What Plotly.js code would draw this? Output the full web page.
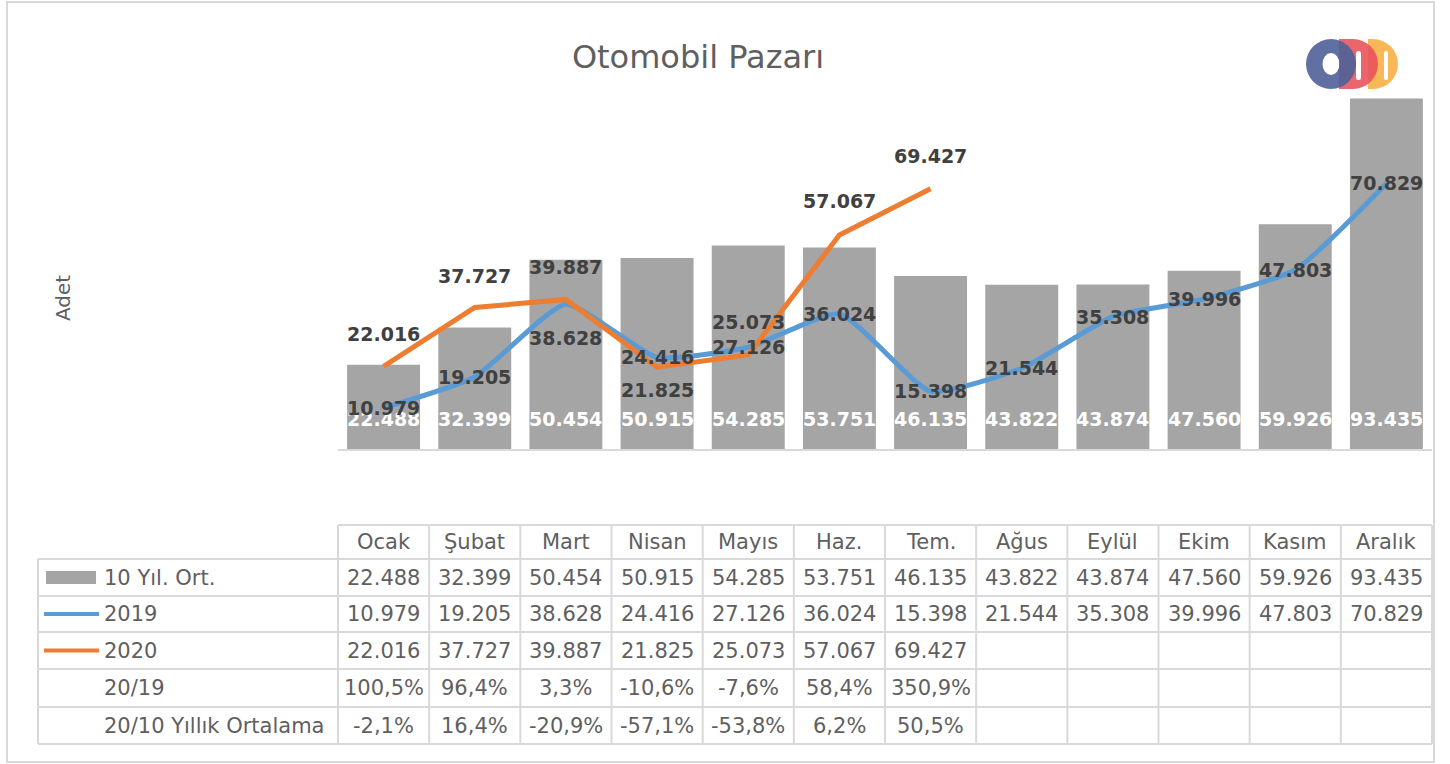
<!DOCTYPE html>
<html>
<head>
<meta charset="utf-8">
<script src="https://cdn.plot.ly/plotly-3.0.1.min.js"></script>
<style>html,body{margin:0;padding:0;background:#fff;}#chart{width:1450px;height:764px;}</style>
</head>
<body>
<div id="chart"></div>
<script>
// ---------- data ----------
const months = ["Ocak","Şubat","Mart","Nisan","Mayıs","Haz.","Tem.","Ağus","Eylül","Ekim","Kasım","Aralık"];
const avg10y = [22488, 32399, 50454, 50915, 54285, 53751, 46135, 43822, 43874, 47560, 59926, 93435];
const sales2019 = [10979, 19205, 38628, 24416, 27126, 36024, 15398, 21544, 35308, 39996, 47803, 70829];
const sales2020 = [22016, 37727, 39887, 21825, 25073, 57067, 69427];
const ratio20vs19 = [100.5, 96.4, 3.3, -10.6, -7.6, 58.4, 350.9];
const ratio20vs10y = [-2.1, 16.4, -20.9, -57.1, -53.8, 6.2, 50.5];
const seriesNames = ["10 Yıl. Ort.", "2019", "2020", "20/19", "20/10 Yıllık Ortalama"];

// ---------- label placement (pixels) ----------
const shift2019 = [0,0,-34,0,0,0,0,0,0,0,0,0];
const shift2020 = [32,32,32,-23,33,34,33];

// ---------- geometry helpers ----------
const L = 338, R = 1432, T = 74, B = 449;
const px2x = p => (p - L) / (R - L);
const px2y = p => (B - p) / (B - T);
const fmtN = n => String(n).replace(/\B(?=(\d{3})+(?!\d))/g, ".");
const fmtP = v => v.toFixed(1).replace(".", ",") + "%";

const FONT = "DejaVu Sans";
const TXT = "#5f5f5f";
const GRID = "#d9d9d9";
const BLUE = "#5B9BD5", ORANGE = "#ED7D31", GRAY = "#A5A5A5";

const traces = [
  {type:"bar", x:months, y:avg10y, name:seriesNames[0], marker:{color:GRAY}, hoverinfo:"none"},
  {type:"scatter", mode:"lines", x:months, y:sales2019, name:seriesNames[1],
   line:{color:BLUE, width:5, shape:"spline", smoothing:0.5}, hoverinfo:"none"},
  {type:"scatter", mode:"lines", x:months.slice(0, sales2020.length), y:sales2020, name:seriesNames[2],
   line:{color:ORANGE, width:5}, hoverinfo:"none"}
];

const ann = [];
const shapes = [];
const A = o => ann.push(Object.assign({showarrow:false, xanchor:"center", yanchor:"middle"}, o));

// bar value labels (white, inside bottom)
avg10y.forEach((v,i) => A({x:months[i], xref:"x", y:px2y(419), yref:"paper", text:fmtN(v),
  font:{family:FONT, size:19, color:"#ffffff", weight:"bold"}}));
// 2019 labels
sales2019.forEach((v,i) => A({x:months[i], xref:"x", y:v, yref:"y", yshift:shift2019[i], text:fmtN(v),
  font:{family:FONT, size:19, color:"#404040", weight:"bold"}}));
// 2020 labels
sales2020.forEach((v,i) => A({x:months[i], xref:"x", y:v, yref:"y", yshift:shift2020[i], text:fmtN(v),
  font:{family:FONT, size:19, color:"#404040", weight:"bold"}}));

// axis title
A({x:px2x(63), xref:"paper", y:px2y(298), yref:"paper", text:"Adet", textangle:-90,
  font:{family:FONT, size:20, color:TXT}});

// ---------- data table ----------
const rowEdges = [525, 559, 596, 632, 669, 707, 744];
const rowCenter = k => (rowEdges[k] + rowEdges[k+1]) / 2;
const tfont = {family:FONT, size:21, color:TXT};
months.forEach((m,i) => A({x:m, xref:"x", y:px2y(rowCenter(0)), yref:"paper", text:m, font:tfont}));
const rows = [avg10y.map(fmtN), sales2019.map(fmtN), sales2020.map(fmtN), ratio20vs19.map(fmtP), ratio20vs10y.map(fmtP)];
rows.forEach((r,k) => {
  r.forEach((t,i) => A({x:months[i], xref:"x", y:px2y(rowCenter(k+1)), yref:"paper", text:t, font:tfont}));
  A({x:px2x(102), xref:"paper", xanchor:"left", y:px2y(rowCenter(k+1)), yref:"paper", text:seriesNames[k], font:tfont});
});

const line = (x0,y0,x1,y1,c,w) => shapes.push({type:"line", xref:"paper", yref:"paper", x0, y0, x1, y1, line:{color:c, width:w}, layer:"above"});
// horizontal lines
line(0, px2y(525), 1, px2y(525), GRID, 2);
for (let k = 1; k < rowEdges.length; k++) line(px2x(38), px2y(rowEdges[k]), 1, px2y(rowEdges[k]), GRID, 2);
// vertical lines
for (let i = 0; i <= months.length; i++) line(i/months.length, px2y(525), i/months.length, px2y(744), GRID, 2);
line(px2x(38), px2y(559), px2x(38), px2y(744), GRID, 2);
// legend keys
shapes.push({type:"rect", xref:"paper", yref:"paper", x0:px2x(46), x1:px2x(96), y0:px2y(571), y1:px2y(584), fillcolor:GRAY, line:{width:0}});
line(px2x(44), px2y(rowCenter(2)), px2x(99), px2y(rowCenter(2)), BLUE, 4);
line(px2x(44), px2y(rowCenter(3)), px2x(99), px2y(rowCenter(3)), ORANGE, 4);
// outer chart border
shapes.push({type:"rect", xref:"paper", yref:"paper", x0:px2x(7), x1:px2x(1434), y0:px2y(2), y1:px2y(762), line:{color:GRID, width:2}, fillcolor:"rgba(0,0,0,0)"});

// ---------- logo ----------
const logoSvg = '<svg xmlns="http://www.w3.org/2000/svg" width="120" height="60" viewBox="0 0 120 60">' +
  '<path fill="#f8b24a" fill-opacity="0.92" d="M68,4 H73 A25,25 0 0 1 73,54 H68 Z"/>' +
  '<path fill="#e8505b" fill-opacity="0.88" d="M39,4 H53 A25,25 0 0 1 53,54 H39 Z"/>' +
  '<path fill="#4f6198" fill-opacity="0.9" fill-rule="evenodd" d="M6,29 A25,25 0 1 0 56,29 A25,25 0 1 0 6,29 Z M22.5,29 A8.5,11 0 1 0 39.5,29 A8.5,11 0 1 0 22.5,29 Z"/>' +
  '<rect x="56" y="16" width="5" height="29" rx="2.5" fill="#fff"/>' +
  '<rect x="84" y="16" width="4" height="29" rx="2" fill="#fff"/>' +
  '</svg>';

const layout = {
  width:1450, height:764,
  margin:{l:L, r:1450-R, t:T, b:764-B, pad:0},
  paper_bgcolor:"#ffffff", plot_bgcolor:"rgba(0,0,0,0)",
  showlegend:false,
  bargap:0.2,
  title:{text:"Otomobil Pazarı", x:698/1450, xanchor:"center", xref:"container", y:1-57/764, yanchor:"middle", yref:"container",
    font:{family:FONT, size:32, color:TXT}},
  xaxis:{type:"category", range:[-0.5, months.length-0.5], showticklabels:false, ticks:"", showgrid:false, zeroline:false,
    showline:true, linecolor:GRID, linewidth:2, fixedrange:true},
  yaxis:{range:[0, 100000], visible:false, showgrid:false, zeroline:false, fixedrange:true},
  annotations:ann,
  shapes:shapes,
  images:[{source:"data:image/svg+xml;charset=utf-8," + encodeURIComponent(logoSvg), xref:"paper", yref:"paper",
    x:px2x(1300), y:px2y(35), sizex:120/(R-L), sizey:60/(B-T), xanchor:"left", yanchor:"top", sizing:"stretch", layer:"above"}]
};

Plotly.newPlot("chart", traces, layout, {displayModeBar:false, staticPlot:true});
</script>
</body>
</html>
